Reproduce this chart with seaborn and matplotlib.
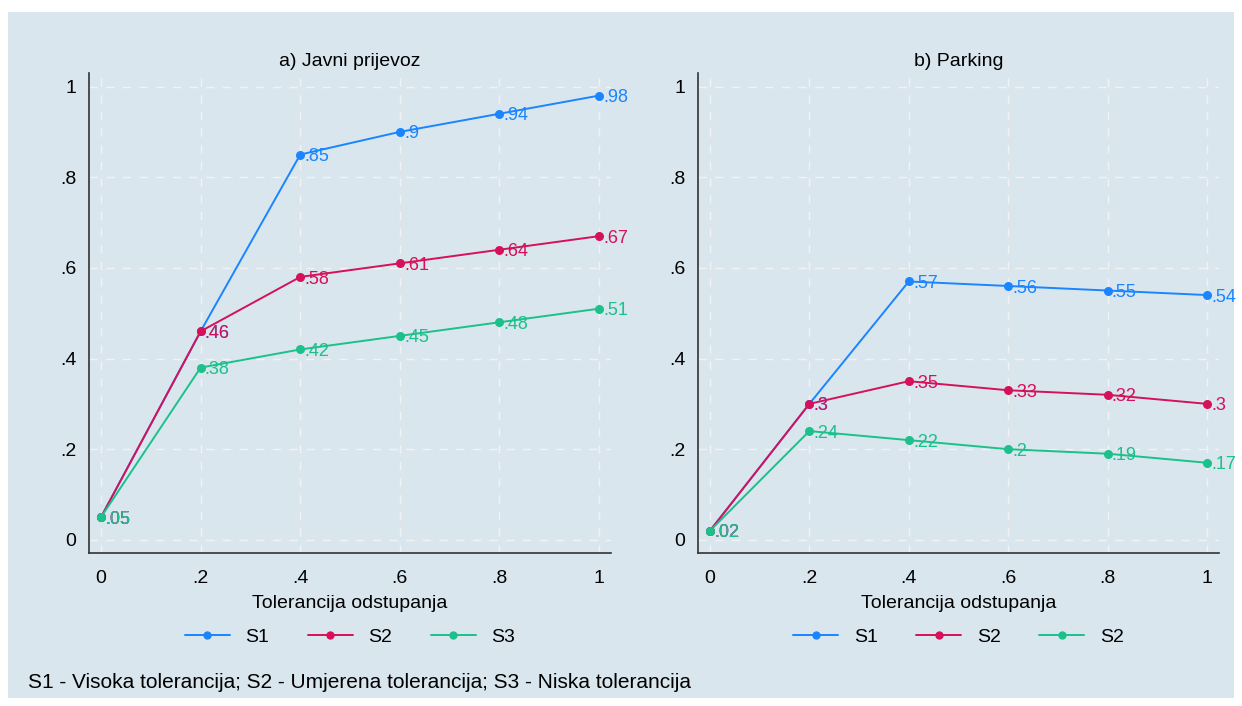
import pandas as pd
import matplotlib
matplotlib.use("Agg")
import matplotlib.pyplot as plt
import seaborn as sns
from matplotlib.patches import Rectangle
from matplotlib.lines import Line2D

# Podaci
tolerancija = [0, 0.2, 0.4, 0.6, 0.8, 1.0]
javni_s1 = [0.05, 0.46, 0.85, 0.90, 0.94, 0.98]
javni_s2 = [0.05, 0.46, 0.58, 0.61, 0.64, 0.67]
javni_s3 = [0.05, 0.38, 0.42, 0.45, 0.48, 0.51]
parking_s1 = [0.02, 0.30, 0.57, 0.56, 0.55, 0.54]
parking_s2 = [0.02, 0.30, 0.35, 0.33, 0.32, 0.30]
parking_s3 = [0.02, 0.24, 0.22, 0.20, 0.19, 0.17]
naslovi = ["a) Javni prijevoz", "b) Parking"]
legenda_a = ["S1", "S2", "S3"]
legenda_b = ["S1", "S2", "S2"]

boje = ["#1a85ff", "#d41159", "#1bc08a"]
pozadina = "#dae6ee"

def stata_fmt(v):
    s = f"{v:.2f}".rstrip("0").rstrip(".")
    if s.startswith("0."):
        s = s[1:]
    return s

sns.set_style("white")
plt.rcParams["font.family"] = ["Liberation Sans", "DejaVu Sans"]
plt.rcParams["text.color"] = "black"
plt.rcParams["axes.labelcolor"] = "black"

fig = plt.figure(figsize=(12.42, 7.06), dpi=100)
fig.patch.set_facecolor("white")
fig.patches.append(Rectangle((8 / 1242, 8 / 706), 1226 / 1242, 686 / 706,
                             transform=fig.transFigure, facecolor=pozadina,
                             edgecolor="none", zorder=-10))

ax1 = fig.add_axes([0.0717, 0.2167, 0.4203, 0.68])
ax2 = fig.add_axes([0.562, 0.2167, 0.4195, 0.68])

paneli = [
    (ax1, [javni_s1, javni_s2, javni_s3], legenda_a),
    (ax2, [parking_s1, parking_s2, parking_s3], legenda_b),
]

for i, (ax, serije, leg) in enumerate(paneli):
    ax.set_facecolor(pozadina)
    redovi = []
    for k, vals in enumerate(serije):
        for x, y in zip(tolerancija, vals):
            redovi.append({"x": x, "y": y, "s": f"s{k}"})
    df = pd.DataFrame(redovi)
    sns.lineplot(data=df, x="x", y="y", hue="s", palette=boje, marker="o",
                 markersize=6.5, markeredgewidth=0, linewidth=1.4, ax=ax,
                 legend=False, zorder=3)
    for k, vals in enumerate(serije):
        for x, y in zip(tolerancija, vals):
            ax.annotate(stata_fmt(y), (x, y), xytext=(3, -1.5),
                        textcoords="offset points", color=boje[k],
                        fontsize=13, va="center", ha="left", zorder=4)

    ax.set_xlim(-0.024, 1.024)
    ax.set_ylim(-0.029, 1.03)
    ticks = [0, 0.2, 0.4, 0.6, 0.8, 1.0]
    ax.set_xticks(ticks)
    ax.set_yticks(ticks)
    ax.set_xticklabels([stata_fmt(t) for t in ticks])
    ax.set_yticklabels([stata_fmt(t) for t in ticks])
    ax.tick_params(axis="both", direction="out", length=6, width=1,
                   color="#333333", labelsize=14, pad=6, labelcolor="black")
    ax.tick_params(axis="y", pad=3)
    ax.grid(True, color="#f2f2f2", linestyle=(0, (6, 6)), linewidth=1)
    for side in ["top", "right"]:
        ax.spines[side].set_visible(False)
    for side in ["left", "bottom"]:
        ax.spines[side].set_color("#333333")
        ax.spines[side].set_linewidth(1.2)
    ax.set_xlabel("Tolerancija odstupanja", fontsize=14, labelpad=6)
    ax.set_ylabel("")
    ax.set_title(naslovi[i], fontsize=14, pad=5, color="black")

    handles = [Line2D([], [], color=boje[k], marker="o", markersize=6,
                      markeredgewidth=0, linewidth=1.4) for k in range(3)]
    lg = ax.legend(handles, leg, loc="center", bbox_to_anchor=(0.5, -0.175),
                   ncol=3, frameon=False, fontsize=14, handlelength=2.3,
                   columnspacing=2.0, handletextpad=0.8)
    for t in lg.get_texts():
        t.set_color("black")

fig.text(28 / 1242, 1 - 683 / 706, "S1 - Visoka tolerancija; S2 - Umjerena tolerancija; S3 - Niska tolerancija",
         fontsize=15, va="center", ha="left", color="black")

fig.savefig("out.png", dpi=100, facecolor=fig.get_facecolor())
